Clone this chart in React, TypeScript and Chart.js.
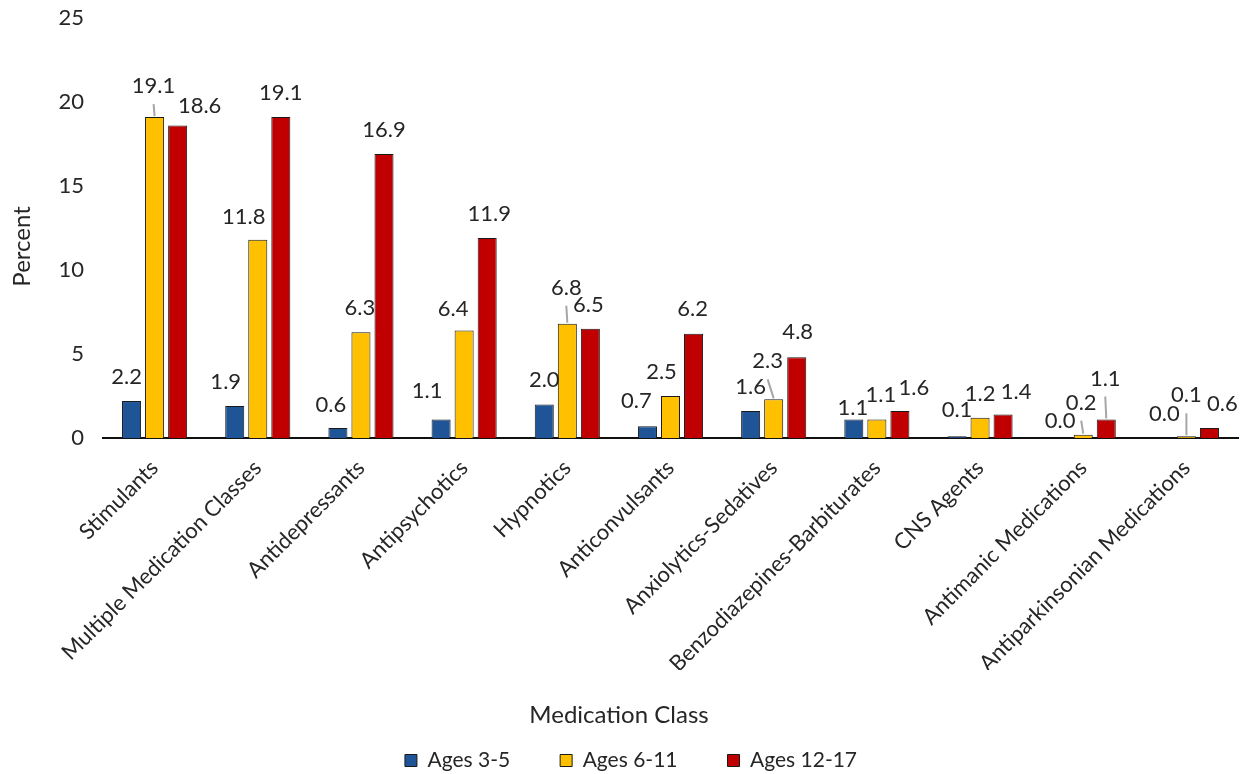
import React, { useEffect, useRef } from "react";
import { Chart, registerables } from "chart.js";

Chart.register(...registerables);

const categories = [
  "Stimulants",
  "Multiple Medication Classes",
  "Antidepressants",
  "Antipsychotics",
  "Hypnotics",
  "Anticonvulsants",
  "Anxiolytics-Sedatives",
  "Benzodiazepines-Barbiturates",
  "CNS Agents",
  "Antimanic Medications",
  "Antiparkinsonian Medications",
];

const seriesNames = ["Ages 3-5", "Ages 6-11", "Ages 12-17"];

const ages3to5 = [2.2, 1.9, 0.6, 1.1, 2.0, 0.7, 1.6, 1.1, 0.1, 0.0, 0.0];
const ages6to11 = [19.1, 11.8, 6.3, 6.4, 6.8, 2.5, 2.3, 1.1, 1.2, 0.2, 0.1];
const ages12to17 = [18.6, 19.1, 16.9, 11.9, 6.5, 6.2, 4.8, 1.6, 1.4, 1.1, 0.6];

const yTicks = [0, 5, 10, 15, 20, 25];

const seriesColors = ["#1F5597", "#FFC000", "#C00000"];

// label placement tweaks: [dx, dy, leaderLine]
const labelPlacement: [number, number, boolean][][] = [
  [[-5, 0, false], [-9, 0, false], [-7, 1, false], [-14, -5, false], [0, 0, false], [-11, -1, false], [0, 0, false], [-1, 12, false], [0, -2, false], [0, 7, false], [1, 0, false]],
  [[-1, -7, true], [-14, 1, false], [-1, 0, false], [-11, 2, false], [-1, -12, true], [-9, 0, false], [-6, -14, true], [4, -1, false], [0, 0, false], [-2, -8, true], [0, -17, true]],
  [[22, 4, false], [0, 0, false], [0, 0, false], [2, 0, false], [-2, 0, false], [-1, -1, false], [1, -1, false], [14, 1, false], [13, 1, false], [-1, -17, true], [13, 0, false]],
];

const TEXT = "#262626";
const FONT = "Lato";

const valueLabels = {
  id: "valueLabels",
  afterLayout(chart: any) {
    if (chart.legend) {
      chart.legend.left += 12;
      chart.legend.right += 12;
    }
  },
  afterDatasetsDraw(chart: any) {
    const ctx = chart.ctx;
    ctx.save();
    ctx.font = `22px ${FONT}`;
    ctx.fillStyle = TEXT;
    ctx.textAlign = "center";
    ctx.textBaseline = "middle";
    chart.data.datasets.forEach((ds: any, di: number) => {
      const meta = chart.getDatasetMeta(di);
      meta.data.forEach((bar: any, i: number) => {
        const [dx, dy, lead] = labelPlacement[di][i];
        const x = bar.x + dx;
        const y = bar.y - 24 + dy;
        if (lead) {
          ctx.save();
          ctx.strokeStyle = "#A6A6A6";
          ctx.lineWidth = 2;
          ctx.beginPath();
          ctx.moveTo(x, y + 18);
          ctx.lineTo(bar.x, bar.y - 1);
          ctx.stroke();
          ctx.restore();
        }
        ctx.fillText(Number(ds.data[i]).toFixed(1), x, y);
      });
    });
    ctx.restore();
  },
};

export default function App() {
  const ref = useRef<HTMLCanvasElement | null>(null);

  useEffect(() => {
    if (!ref.current) return;
    Chart.defaults.font.family = FONT;
    Chart.defaults.color = TEXT;
    const chart = new Chart(ref.current, {
      type: "bar",
      data: {
        labels: categories,
        datasets: [ages3to5, ages6to11, ages12to17].map((d, k) => ({
          label: seriesNames[k],
          data: d,
          backgroundColor: seriesColors[k],
          borderColor: "#1a1a1a",
          borderWidth: 1,
          categoryPercentage: 0.67,
          barPercentage: 0.826,
        })),
      },
      options: {
        responsive: false,
        animation: false,
        layout: { padding: { top: 18, right: 7, left: 0, bottom: -7 } },
        plugins: {
          tooltip: { enabled: false },
          title: {
            display: true,
            position: "bottom",
            weight: 500,
            text: "Medication Class",
            color: TEXT,
            font: { size: 24, family: FONT, weight: "normal" },
            padding: { top: 30.6, bottom: -29.4 },
          },
          legend: {
            position: "bottom",
            labels: {
              boxWidth: 12,
              boxHeight: 12,
              padding: 50,
              color: TEXT,
              font: { size: 21, family: FONT },
            },
          },
        },
        scales: {
          x: {
            z: 1,
            grid: { display: false, drawTicks: false },
            border: { display: true, color: "#111", width: 2 },
            ticks: {
              minRotation: 45,
              maxRotation: 45,
              autoSkip: false,
              padding: 17,
              color: TEXT,
              font: { size: 22, family: FONT },
            },
            afterFit: (scale: any) => {
              scale.height = 232;
            },
          },
          y: {
            min: 0,
            max: 25,
            afterBuildTicks: (scale: any) => {
              scale.ticks = yTicks.map((v) => ({ value: v }));
            },
            grid: { display: false, drawTicks: false },
            border: { display: false },
            ticks: {
              padding: 19,
              color: TEXT,
              font: { size: 22, family: FONT },
            },
            title: {
              display: true,
              text: "Percent      ",
              color: TEXT,
              font: { size: 24, family: FONT },
              padding: { top: 8, bottom: 0 },
            },
            afterFit: (scale: any) => {
              scale.width = 103;
              scale.paddingTop = 0;
              scale.paddingBottom = 0;
            },
          },
        },
      },
      plugins: [valueLabels],
    });
    return () => chart.destroy();
  }, []);

  return (
    <div style={{ position: "absolute", left: 0, top: 0, width: 1245, height: 774, background: "#fff" }}>
      <canvas ref={ref} width={1245} height={774} />
    </div>
  );
}
